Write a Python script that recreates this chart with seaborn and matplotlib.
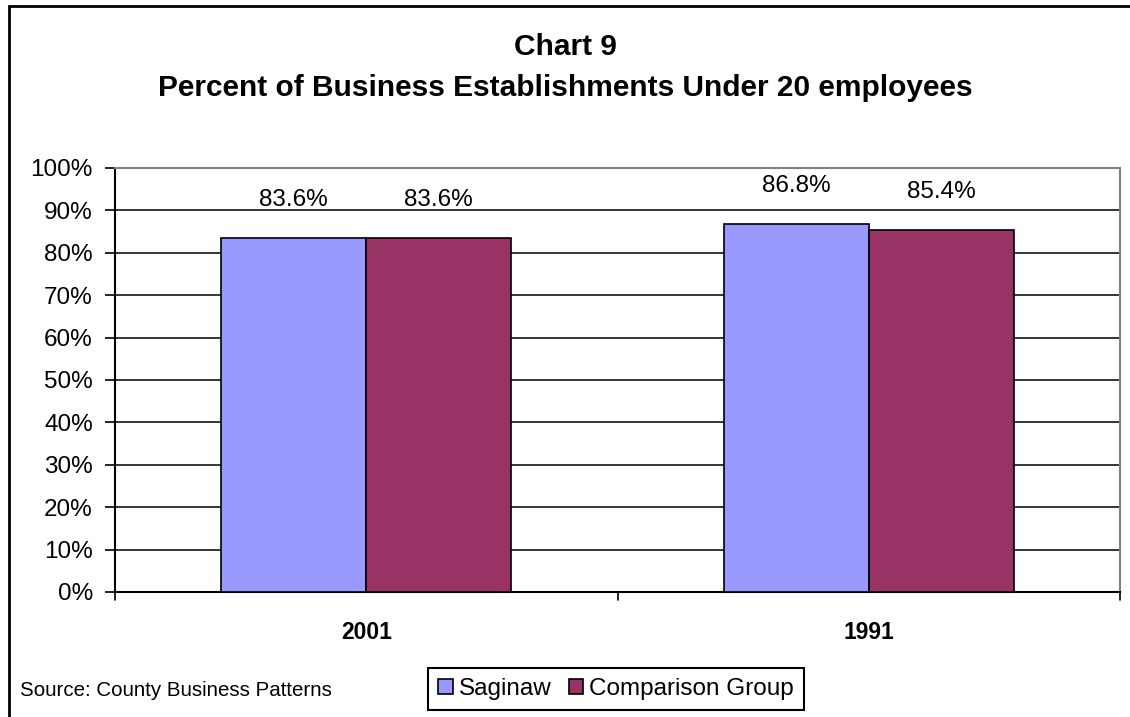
import matplotlib
matplotlib.use("Agg")
import matplotlib.pyplot as plt
import matplotlib.patches as mpatches
import seaborn as sns
import pandas as pd

# Chart data
years = ["2001", "1991"]
series = ["Saginaw", "Comparison Group"]
saginaw = [83.6, 86.8]
comparison = [83.6, 85.4]
colors = ["#9999FF", "#993366"]
ytick_values = list(range(0, 101, 10))

df = pd.DataFrame({
    "year": years * 2,
    "group": [series[0]] * len(years) + [series[1]] * len(years),
    "pct": saginaw + comparison,
})

sns.set_theme(style="white")
plt.rcParams["font.family"] = ["Liberation Sans", "DejaVu Sans"]
plt.rcParams["text.color"] = "black"
plt.rcParams["xtick.color"] = "black"
plt.rcParams["ytick.color"] = "black"
plt.rcParams["axes.labelcolor"] = "black"

fig = plt.figure(figsize=(11.3, 7.17), dpi=100)
ax = fig.add_axes([115 / 1130, 1 - 592 / 717, 1005 / 1130, 424 / 717])

sns.barplot(data=df, x="year", y="pct", hue="group", order=years,
            hue_order=series, palette=colors, width=0.577, ax=ax,
            edgecolor="black", linewidth=1.2, saturation=1, legend=False,
            zorder=3)

ax.set_ylim(0, 100)
ax.set_xlim(-0.5, len(years) - 0.5)
ax.set_yticks(ytick_values)
ax.set_yticklabels([f"{v}%" for v in ytick_values], fontsize=17.5)
ax.yaxis.grid(True, color="black", linewidth=1.1, zorder=0)
ax.set_axisbelow(True)
ax.set_xlabel("")
ax.set_ylabel("")

# Category labels, with ticks between categories
ax.set_xticks(range(len(years)))
ax.set_xticklabels(years, fontsize=16.5, fontweight="bold")
ax.tick_params(axis="x", length=0, pad=21)
for xb in [-0.5 + i for i in range(len(years) + 1)]:
    ax.plot([xb, xb], [0, -0.018], transform=ax.get_xaxis_transform(),
            color="black", linewidth=1.2, clip_on=False)
ax.tick_params(axis="y", length=7, width=1.2, color="black", direction="out",
               left=True, pad=9)

for side in ["left", "bottom"]:
    ax.spines[side].set_color("black")
    ax.spines[side].set_linewidth(1.5)
for side in ["top", "right"]:
    ax.spines[side].set_color("#808080")
    ax.spines[side].set_linewidth(1.5)

# Value labels above each bar
for cont in ax.containers:
    for bar in cont:
        h = bar.get_height()
        ax.annotate(f"{h:.1f}%", (bar.get_x() + bar.get_width() / 2, h),
                    xytext=(0, 27), textcoords="offset points",
                    ha="center", va="center", fontsize=17.5)

# Titles
fig.text(0.5, 1 - 47 / 717, "Chart 9", ha="center", va="center",
         fontsize=21.5, fontweight="bold")
fig.text(0.5, 1 - 88 / 717, "Percent of Business Establishments Under 20 employees",
         ha="center", va="center", fontsize=21.5, fontweight="bold")

# Source note
fig.text(20 / 1130, 1 - 690 / 717, "Source: County Business Patterns",
         ha="left", va="center", fontsize=14.8)

# Legend
handles = [mpatches.Patch(facecolor=c, edgecolor="black", linewidth=1.2, label=s)
           for c, s in zip(colors, series)]
leg = fig.legend(handles=handles, loc="center", ncol=2,
                 bbox_to_anchor=(616 / 1130, 1 - 689 / 717),
                 fontsize=17.5, frameon=True, fancybox=False, framealpha=1,
                 edgecolor="black", handlelength=0.6, handleheight=0.6,
                 handletextpad=0.25, columnspacing=0.7, borderpad=0.4,
                 borderaxespad=0)
leg.get_frame().set_linewidth(1.5)

# Outer frame of the chart
frame = mpatches.Rectangle((9 / 1130, -0.1), 1.2, 1 - 6 / 717 + 0.1,
                           transform=fig.transFigure, fill=False,
                           edgecolor="black", linewidth=2, zorder=10)
fig.patches.append(frame)

fig.savefig("out.png", dpi=100)
